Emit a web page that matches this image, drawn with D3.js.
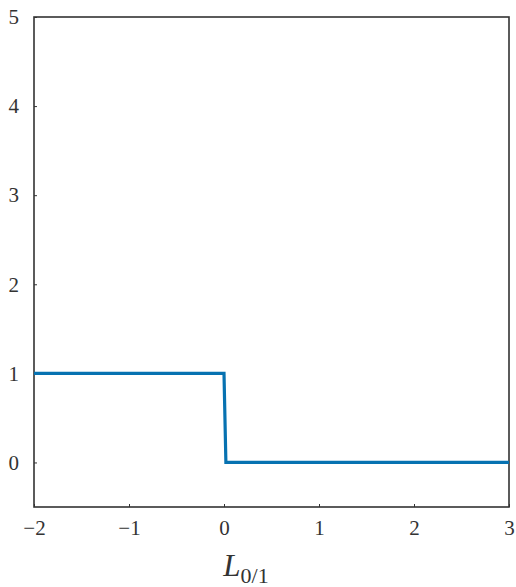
<!DOCTYPE html>
<html>
<head>
<meta charset="utf-8">
<script src="https://cdn.jsdelivr.net/npm/d3@7"></script>
<style>
  body { margin: 0; background: #fff; }
  text { font-family: "Liberation Serif", "DejaVu Serif", serif; fill: #333; }
</style>
</head>
<body>
<div id="chart"></div>
<script>
// step-shaped 0/1 loss
let lossX = [-2, 0, 0.02, 3];
let lossY = [1, 1, 0, 0];
let xTicks = [-2, -1, 0, 1, 2, 3];
let yTicks = [0, 1, 2, 3, 4, 5];

let width = 516, height = 587;
let margin = { top: 17, right: 7, bottom: 80, left: 34 };

let svg = d3.select("#chart").append("svg")
  .attr("width", width)
  .attr("height", height);

let x = d3.scaleLinear()
  .domain([-2, 3])
  .range([margin.left, width - margin.right]);

let y = d3.scaleLinear()
  .domain([-0.5, 5])
  .range([height - margin.bottom, margin.top]);

// axes with small inward ticks
let xAxis = svg.append("g")
  .attr("transform", "translate(0," + (height - margin.bottom) + ")")
  .call(d3.axisBottom(x).tickValues(xTicks).tickSizeInner(-3).tickSizeOuter(0).tickPadding(13)
    .tickFormat(d => d < 0 ? "\u2212" + Math.abs(d) : d));

let yAxis = svg.append("g")
  .attr("transform", "translate(" + margin.left + ",0)")
  .call(d3.axisLeft(y).tickValues(yTicks).tickFormat(d3.format("d")).tickSizeInner(-3).tickSizeOuter(0).tickPadding(15));

[xAxis, yAxis].forEach(a => {
  a.select(".domain").remove();
  a.selectAll(".tick line").attr("stroke", "#333").attr("stroke-width", 1);
  a.selectAll(".tick text").style("font-size", "21px").attr("fill", "#333");
});

// frame
svg.append("rect")
  .attr("x", x(-2))
  .attr("y", y(5))
  .attr("width", x(3) - x(-2))
  .attr("height", y(-0.5) - y(5))
  .attr("fill", "none")
  .attr("stroke", "#333")
  .attr("stroke-width", 1.6);

// the loss line
let pts = lossX.map((d, i) => [d, lossY[i]]);
svg.append("path")
  .datum(pts)
  .attr("fill", "none")
  .attr("stroke", "#0772b1")
  .attr("stroke-width", 3.2)
  .attr("d", d3.line().x(d => x(d[0])).y(d => y(d[1])));

// x label
let lab = svg.append("text")
  .attr("x", x(0) + 22)
  .attr("y", 576)
  .attr("text-anchor", "middle")
  .style("font-size", "31px");
lab.append("tspan").style("font-style", "italic").text("L");
lab.append("tspan").attr("dy", 7).style("font-size", "22px").text("0/1");
</script>
</body>
</html>
